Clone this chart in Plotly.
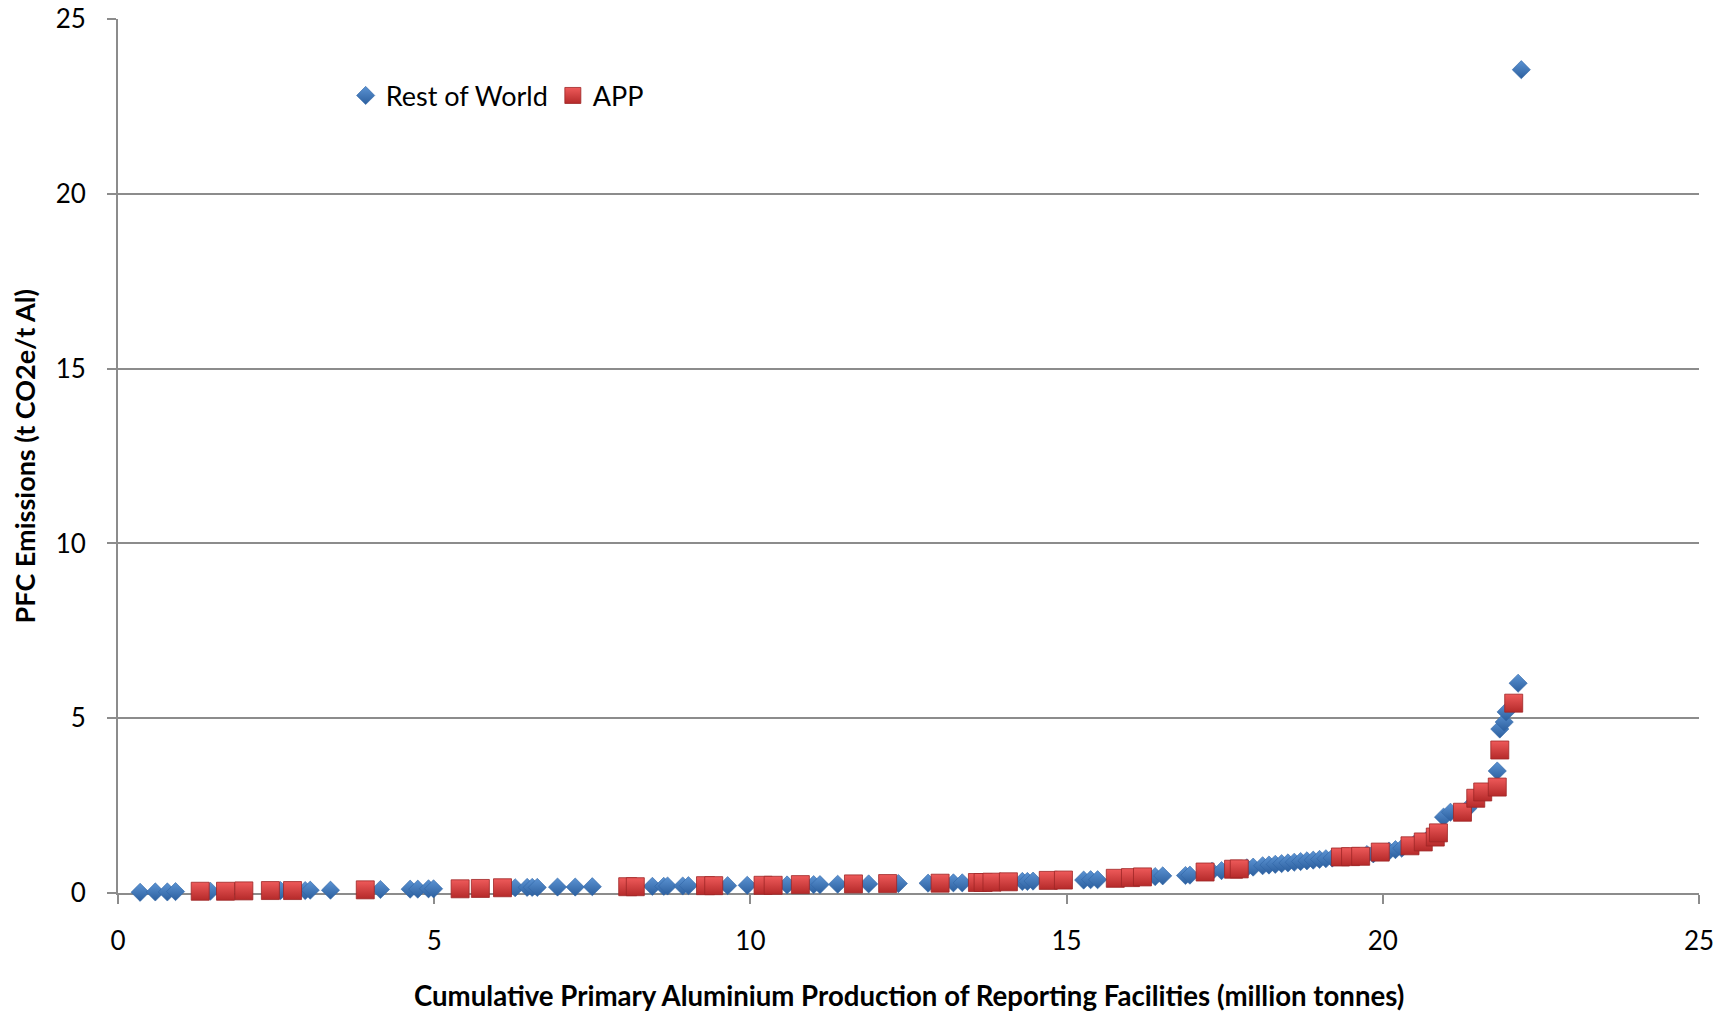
import plotly.graph_objects as go

# Rest of World facilities: cumulative production (Mt) vs PFC intensity (t CO2e/t Al)
row_x = [0.35, 0.59, 0.78, 0.91, 1.46, 2.57, 2.96, 3.04, 3.36, 4.15, 4.62, 4.74, 4.91, 4.99,
         6.28, 6.47, 6.55, 6.63, 6.95, 7.23, 7.50, 8.45, 8.63, 8.69, 8.93, 9.02, 9.64, 9.95,
         10.58, 11.00, 11.10, 11.38, 11.87, 12.34, 12.81, 13.21, 13.35, 14.30, 14.38, 14.47,
         15.27, 15.38, 15.49, 16.40, 16.52, 16.88, 16.95, 17.30, 17.45, 17.85, 17.95,
         18.10, 18.20, 18.30, 18.40, 18.50, 18.60, 18.70, 18.80, 18.90, 19.00, 19.10, 19.20,
         19.75, 19.85, 20.10, 20.20, 20.30, 20.50, 20.70, 20.96, 21.07, 21.35,
         21.81, 21.85, 21.92, 21.95, 22.14, 22.19]
row_y = [0.02, 0.03, 0.03, 0.04, 0.05, 0.07, 0.07, 0.08, 0.08, 0.10, 0.11, 0.11, 0.12, 0.12,
         0.15, 0.16, 0.16, 0.16, 0.17, 0.17, 0.18, 0.19, 0.19, 0.20, 0.20, 0.21, 0.21, 0.22,
         0.23, 0.24, 0.24, 0.25, 0.26, 0.27, 0.28, 0.29, 0.29, 0.33, 0.33, 0.34,
         0.37, 0.38, 0.38, 0.47, 0.49, 0.50, 0.51, 0.62, 0.64, 0.72, 0.74,
         0.78, 0.80, 0.82, 0.84, 0.86, 0.88, 0.90, 0.92, 0.94, 0.96, 0.98, 1.00,
         1.10, 1.12, 1.20, 1.24, 1.28, 1.40, 1.52, 2.17, 2.31, 2.43,
         3.49, 4.69, 4.89, 5.18, 6.00, 23.55]

# APP facilities
app_x = [1.30, 1.70, 1.99, 2.41, 2.76, 3.91, 5.41, 5.73, 6.08, 8.06, 8.18, 9.29, 9.42,
         10.20, 10.36, 10.79, 11.63, 12.17, 13.00, 13.59, 13.68, 13.82, 14.08, 14.71, 14.95,
         15.77, 16.01, 16.20, 17.19, 17.64, 17.73, 19.33, 19.49, 19.65, 19.96,
         20.43, 20.64, 20.83, 20.88, 21.26, 21.47, 21.58, 21.81, 21.85, 22.07]
app_y = [0.05, 0.05, 0.06, 0.07, 0.07, 0.09, 0.12, 0.13, 0.15, 0.18, 0.18, 0.21, 0.21,
         0.22, 0.22, 0.24, 0.26, 0.27, 0.28, 0.30, 0.30, 0.31, 0.32, 0.36, 0.37,
         0.42, 0.44, 0.46, 0.60, 0.68, 0.69, 1.03, 1.04, 1.05, 1.17,
         1.35, 1.46, 1.60, 1.72, 2.31, 2.71, 2.89, 3.03, 4.09, 5.43]

x_ticks = [0, 5, 10, 15, 20, 25]
y_ticks = [0, 5, 10, 15, 20, 25]

FONT = "Lato"
GRID = "#8c8c8c"

fig = go.Figure()
fig.add_trace(go.Scatter(
    x=row_x, y=row_y, mode="markers", name="Rest of World", cliponaxis=False,
    marker=dict(symbol="diamond", size=14, color="#5b93d3",
                gradient=dict(type="vertical", color="#2c5f9e"),
                line=dict(color="#2f65a6", width=0.6)),
))
fig.add_trace(go.Scatter(
    x=app_x, y=app_y, mode="markers", name="APP", cliponaxis=False,
    marker=dict(symbol="square", size=18, color="#ee5a5a",
                gradient=dict(type="vertical", color="#b52a2a"),
                line=dict(color="#9e2626", width=0.8)),
))

fig.update_layout(
    template="none",
    width=1724, height=1014,
    margin=dict(l=118, r=25, t=19, b=121),
    paper_bgcolor="white", plot_bgcolor="white",
    font=dict(family=FONT, size=26, color="black"),
    showlegend=True,
    legend=dict(orientation="h", x=0.144, y=0.912, xanchor="left", yanchor="middle",
                font=dict(family=FONT, size=27, color="black"),
                bgcolor="rgba(0,0,0,0)"),
    xaxis=dict(range=[0, 25], tickvals=x_ticks, showgrid=False, zeroline=False,
               automargin=False,
               showline=True, linecolor=GRID, linewidth=2, layer="below traces",
               ticks="outside", ticklen=9, tickcolor=GRID, tickwidth=1.5,
               ticklabelstandoff=15, tickfont=dict(family=FONT, size=26)),
    yaxis=dict(range=[0, 25], tickvals=y_ticks, showgrid=True, gridcolor=GRID, gridwidth=1.5,
               automargin=False,
               zeroline=False, showline=True, linecolor=GRID, linewidth=2, layer="below traces",
               ticks="outside", ticklen=9, tickcolor=GRID, tickwidth=1.5,
               ticklabelstandoff=16, tickfont=dict(family=FONT, size=26)),
    annotations=[
        dict(text="<b>Cumulative Primary Aluminium Production of Reporting Facilities (million tonnes)</b>",
             xref="paper", yref="paper", x=0.5, y=-0.117, xanchor="center", yanchor="middle",
             showarrow=False, font=dict(family=FONT, size=27.6)),
        dict(text="<b>PFC Emissions (t CO2e/t Al)</b>",
             xref="paper", yref="paper", x=-0.0592, y=0.5, xanchor="center", yanchor="middle",
             textangle=-90, showarrow=False, font=dict(family=FONT, size=27)),
    ],
)

fig.write_html("out.html")
